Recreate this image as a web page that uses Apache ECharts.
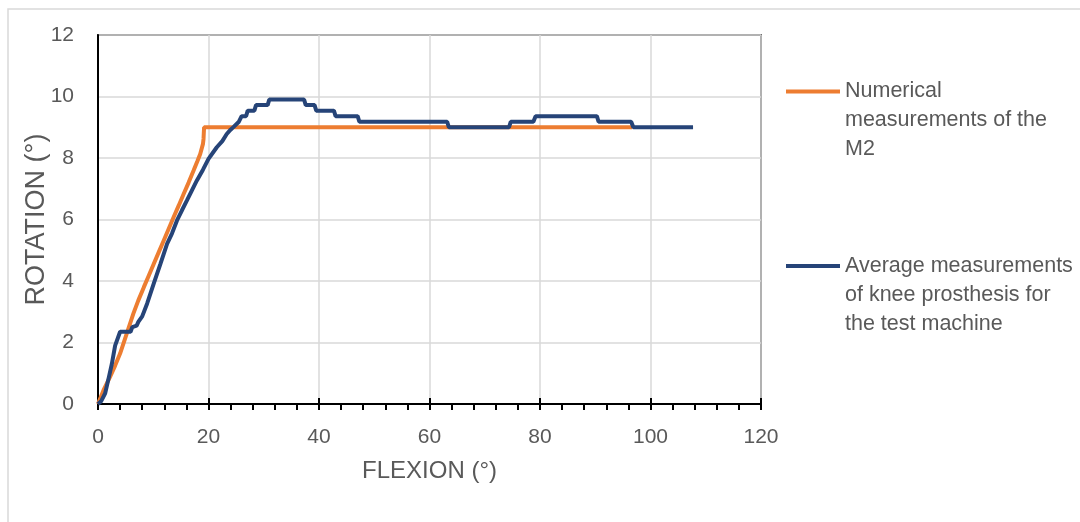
<!DOCTYPE html>
<html>
<head>
<meta charset="utf-8">
<script src="https://cdn.jsdelivr.net/npm/echarts@6/dist/echarts.min.js"></script>
<style>
  html, body { margin: 0; padding: 0; background: #fff; }
  #main { width: 1080px; height: 522px; }
</style>
</head>
<body>
<div id="main"></div>
<script>
// flexion (deg) / rotation (deg)
var xNum = [0, 1.0, 2.2, 3.1, 4.0, 5.2, 6.4, 7.3, 8.3, 9.2, 10.1, 11.0, 11.9, 12.8, 13.7, 14.6, 15.5, 16.4, 17.3, 18.0, 18.5, 19.0, 19.1, 19.2, 96.7];
var yNum = [0, 0.45, 0.89, 1.25, 1.64, 2.29, 2.94, 3.37, 3.8, 4.18, 4.56, 4.94, 5.32, 5.7, 6.08, 6.45, 6.83, 7.2, 7.59, 7.9, 8.13, 8.46, 8.62, 9.0, 9.0];

var xAvg = [0, 0.6, 1.3, 2.0, 2.5, 3.1, 4.0, 5.9, 6.2, 6.4, 7.0, 7.3, 8.0, 8.9, 10.1, 11.3, 12.5, 13.4, 14.3, 15.2, 16.1, 17.0, 17.9, 19.0, 20.0, 21.5, 22.5, 23.3, 24.0, 24.6, 25.5, 26.0, 26.8, 27.1, 28.3, 28.6, 30.7, 31.0, 37.3, 37.6, 39.2, 39.5, 42.7, 43.0, 47.0, 47.3, 63.2, 63.5, 74.4, 74.7, 78.8, 79.2, 90.3, 90.6, 96.5, 96.9, 107.7];
var yAvg = [0, 0.1, 0.35, 0.9, 1.3, 1.9, 2.35, 2.35, 2.5, 2.53, 2.55, 2.67, 2.85, 3.27, 3.92, 4.56, 5.21, 5.55, 5.97, 6.3, 6.62, 6.95, 7.27, 7.62, 7.97, 8.35, 8.55, 8.78, 8.92, 9.02, 9.18, 9.36, 9.36, 9.54, 9.54, 9.72, 9.72, 9.9, 9.9, 9.72, 9.72, 9.54, 9.54, 9.36, 9.36, 9.18, 9.18, 9.0, 9.0, 9.18, 9.18, 9.36, 9.36, 9.18, 9.18, 9.0, 9.0];

var nameNum = 'Numerical measurements of the M2';
var nameAvg = 'Average measurements of knee prosthesis for the test machine';
// two blank lines on top so the first text line sits beside the legend line
var legendLines = {};
legendLines[nameNum] = '\n\nNumerical\nmeasurements of the\nM2';
legendLines[nameAvg] = '\n\nAverage measurements\nof knee prosthesis for\nthe test machine';

function pairs(xs, ys) {
  var out = [];
  for (var i = 0; i < xs.length; i++) out.push([xs[i], ys[i]]);
  return out;
}

var fontName = 'Liberation Sans';
var grey = '#595959';

var legendText = {
  color: grey, fontSize: 21.5, fontFamily: fontName, lineHeight: 29
};

var option = {
  animation: false,
  backgroundColor: '#fff',
  graphic: [{
    type: 'rect', z: -10, silent: true,
    shape: { x: 8, y: 9, width: 1100, height: 600 },
    style: { fill: 'none', stroke: '#d9d9d9', lineWidth: 1.5 }
  }],
  grid: {
    left: 98, right: 319, top: 35, bottom: 118,
    show: true, borderColor: '#000', borderWidth: 1.5
  },
  legend: [{
    left: 786, top: 19, padding: 0,
    icon: 'rect', itemWidth: 54, itemHeight: 4,
    data: [nameNum],
    formatter: function (n) { return legendLines[n]; },
    textStyle: legendText
  }, {
    left: 786, top: 193.5, padding: 0,
    icon: 'rect', itemWidth: 54, itemHeight: 4,
    data: [nameAvg],
    formatter: function (n) { return legendLines[n]; },
    textStyle: legendText
  }],
  xAxis: [{
    type: 'value', min: 0, max: 120, interval: 20,
    name: 'FLEXION (°)', nameLocation: 'middle', nameGap: 55,
    nameTextStyle: { color: grey, fontSize: 24, fontFamily: fontName },
    axisLine: { show: true, lineStyle: { color: '#000', width: 2 } },
    axisTick: { show: true, length: 6, lineStyle: { color: '#000', width: 2 } },
    minorTick: { show: true, splitNumber: 5, length: 6, lineStyle: { color: '#000', width: 2 } },
    axisLabel: { color: grey, fontSize: 21, fontFamily: fontName, margin: 23 },
    splitLine: { show: true, lineStyle: { color: '#d9d9d9', width: 1.5 } }
  }, {
    type: 'value', min: 0, max: 120, interval: 20, position: 'bottom',
    axisLine: { show: false },
    axisTick: { show: true, inside: true, length: 6, lineStyle: { color: '#000', width: 2 } },
    axisLabel: { show: false },
    splitLine: { show: false }
  }],
  yAxis: {
    type: 'value', min: 0, max: 12, interval: 2,
    name: 'ROTATION (°)', nameLocation: 'middle', nameGap: 48,
    nameMoveOverlap: false,
    nameTextStyle: { color: grey, fontSize: 27, fontFamily: fontName },
    axisLine: { show: true, lineStyle: { color: '#000', width: 2 } },
    axisTick: { show: false },
    axisLabel: { color: grey, fontSize: 21, fontFamily: fontName, margin: 24 },
    splitLine: { show: true, lineStyle: { color: '#d9d9d9', width: 1.5 } }
  },
  series: [{
    name: nameNum, type: 'line', symbol: 'none',
    lineStyle: { color: '#ED7D31', width: 4 },
    itemStyle: { color: '#ED7D31' },
    data: pairs(xNum, yNum)
  }, {
    name: nameAvg, type: 'line', symbol: 'none',
    lineStyle: { color: '#264478', width: 4 },
    itemStyle: { color: '#264478' },
    data: pairs(xAvg, yAvg)
  }]
};

var myChart = echarts.init(document.getElementById('main'));
myChart.setOption(option);
</script>
</body>
</html>
